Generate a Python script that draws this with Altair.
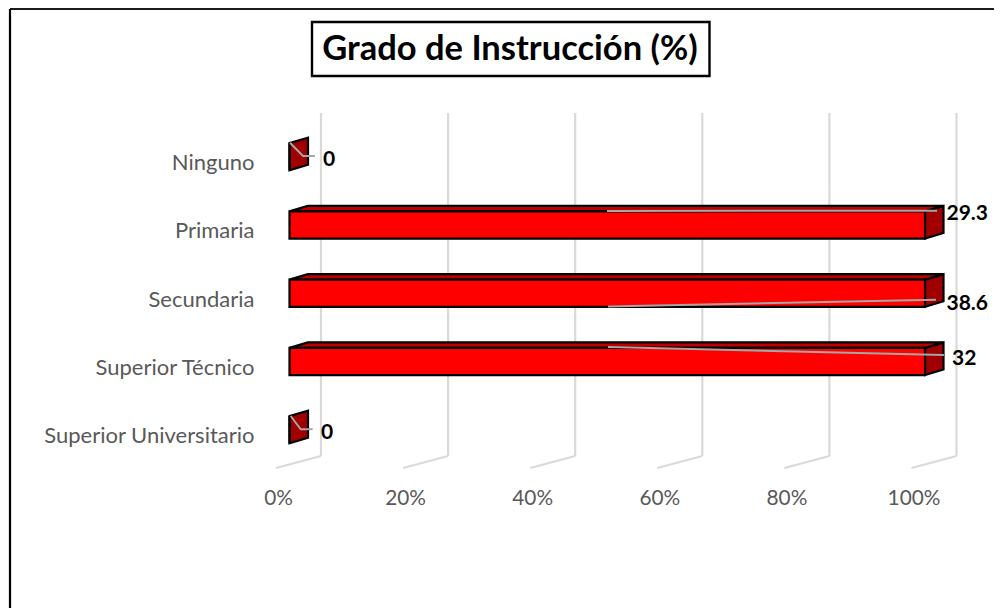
import json
import altair as alt
import pandas as pd

# ---- values
categories = ["Ninguno", "Primaria", "Secundaria", "Superior Técnico", "Superior Universitario"]
values = [0, 29.3, 38.6, 32, 0]
tick_values = [0, 20, 40, 60, 80, 100]
title_text = "Grado de Instrucción (%)"

# ---- scale definition (page pixels)
PL, PT, PW, PH = 276, 8, 718, 477      # plot area on page
X0, XS = 289.5, 6.355                  # px of 0 %, px per %
Y0, YS = 156.7, 68.25                  # px of first bar centre, px per slot
BAR_H = 13.6                           # half height of front face in px
DX, DY = 18.5, 5.5                     # bar depth
def ux(px): return (px - X0) / XS
def uy(px): return (px - Y0) / YS
def dxu(px): return px / XS
def dyu(px): return px / YS

shares = [100 if v > 0 else 0 for v in values]
x_scale = alt.Scale(domain=[ux(PL), ux(PL + PW)], nice=False, zero=False)
y_scale = alt.Scale(domain=[uy(PT), uy(PT + PH)], nice=False, zero=False, reverse=True)
X = lambda f, **k: alt.X(f, type="quantitative", scale=x_scale, title=None, **k)
Y = lambda f, **k: alt.Y(f, type="quantitative", scale=y_scale, title=None, **k)

front, top, side = [], [], []
for i, (c, s) in enumerate(zip(categories, shares)):
    ht, hb = i - dyu(BAR_H), i + dyu(BAR_H)
    front.append(dict(c=c, x=0, x2=s, y=ht, y2=hb))
    top += [dict(c=c, y=ht, x=0, x2=s), dict(c=c, y=ht - dyu(DY), x=dxu(DX), x2=s + dxu(DX))]
    side += [dict(c=c, x=s, y=ht, y2=hb), dict(c=c, x=s + dxu(DX), y=ht - dyu(DY), y2=hb - dyu(DY))]

grid = pd.DataFrame(dict(x=tick_values))
grid["xb"] = grid.x + dxu(31.5)
grid["xf"] = grid.x + dxu(-13.5)
grid["yt"] = uy(113)
grid["yb"] = uy(456)
grid["yf"] = uy(468)

GRID = "#d9d9d9"
back_rules = alt.Chart(grid).mark_rule(color=GRID, strokeWidth=2.2).encode(
    x=X("xb"), y=Y("yt"), y2="yb")
floor_rules = alt.Chart(grid).mark_rule(color=GRID, strokeWidth=2.2).encode(
    x=X("xf", axis=alt.Axis(values=tick_values, labelExpr="datum.value + '%'", labelOffset=-11.5,
                            domain=False, ticks=False, grid=False, labelFontSize=20.8, labelFont="Lato",
                            labelColor="#595959", labelPadding=3, labelOverlap=False, labelFlush=False)),
    x2="xb",
    y=Y("yf", axis=alt.Axis(values=list(range(len(categories))),
                            labelExpr=json.dumps(categories) + "[datum.value]", labelOffset=6,
                            domain=False, ticks=False, grid=False, labelFontSize=22, labelFont="Lato",
                            labelColor="#595959", labelPadding=22, labelOverlap=False, labelFlush=False,
                            labelLimit=400)),
    y2="yb")

side_l = alt.Chart(pd.DataFrame(side)).mark_area(orient="vertical", color="#a00000", stroke="black", strokeWidth=2.2).encode(
    x=X("x"), y=Y("y"), y2="y2", detail="c:N")
top_l = alt.Chart(pd.DataFrame(top)).transform_filter("datum.x2 > 5").mark_area(orient="horizontal", color="#c00000", stroke="black", strokeWidth=2.2).encode(
    y=Y("y"), x=X("x"), x2="x2", detail="c:N")
front_l = alt.Chart(pd.DataFrame(front)).mark_rect(color="#ff0000", stroke="black", strokeWidth=2.2).encode(
    x=X("x"), x2="x2", y=Y("y"), y2="y2")

# leader lines and labels, read in page pixels
leaders = [
    ("Ninguno", [(290, 142.7), (303, 156), (315, 156)]),
    ("Primaria", [(607, 211), (937, 210.7)]),
    ("Secundaria", [(608, 306.5), (936, 299.7)]),
    ("Superior Técnico", [(608, 347), (944, 355)]),
    ("Superior Universitario", [(290.7, 416), (300.7, 429.3), (312.7, 429.3)]),
]
lead_rows = [dict(c=c, o=j, x=ux(px), y=uy(py)) for c, pts in leaders for j, (px, py) in enumerate(pts)]
leader_l = alt.Chart(pd.DataFrame(lead_rows)).mark_line(color="#a6a6a6", strokeWidth=2).encode(
    x=X("x"), y=Y("y"), detail="c:N", order="o:Q")

label_px = [(323, 159.5), (946.5, 214), (946.5, 304), (952, 359), (321, 432.5)]
labels = pd.DataFrame(dict(t=[f"{v:g}" for v in values], x=[ux(p[0]) for p in label_px], y=[uy(p[1]) for p in label_px]))
label_l = alt.Chart(labels).mark_text(align="left", baseline="middle", font="Lato", fontWeight="bold", fontSize=21, color="black").encode(
    x=X("x"), y=Y("y"), text="t:N")

# frame and title box, offsets from the plot's origin
ox, oy = PL, PT
frame_top = alt.Chart(pd.DataFrame(dict(a=[0]))).mark_rule(color="#1a1a1a", strokeWidth=2.2).encode(
    x=alt.value(10 - ox), x2=alt.value(1002 - ox), y=alt.value(9 - oy))
frame_left = alt.Chart(pd.DataFrame(dict(a=[0]))).mark_rule(color="black", strokeWidth=2.2).encode(
    x=alt.value(10 - ox), y=alt.value(9 - oy), y2=alt.value(611 - oy))
title_box = alt.Chart(pd.DataFrame(dict(a=[0]))).mark_rect(fill="white", stroke="black", strokeWidth=2.4).encode(
    x=alt.value(312 - ox), x2=alt.value(709.5 - ox), y=alt.value(22 - oy), y2=alt.value(76 - oy))
title_l = alt.Chart(pd.DataFrame(dict(t=[title_text]))).mark_text(font="Lato", fontWeight="bold", fontSize=34.5, color="black", baseline="middle").encode(
    x=alt.value(510 - ox), y=alt.value(50 - oy), text="t:N")

chart = alt.layer(back_rules, floor_rules, side_l, top_l, front_l, leader_l, label_l,
                  frame_top, frame_left, title_box, title_l).properties(
    width=PW, height=PH,
    autosize=alt.AutoSizeParams(type="none"),
    padding={"left": PL - 8, "top": PT - 8, "right": 0, "bottom": 600 - PH},
    background="white",
).configure_view(stroke=None)

chart.save("out.html", embed_options={"renderer": "svg", "actions": False})
